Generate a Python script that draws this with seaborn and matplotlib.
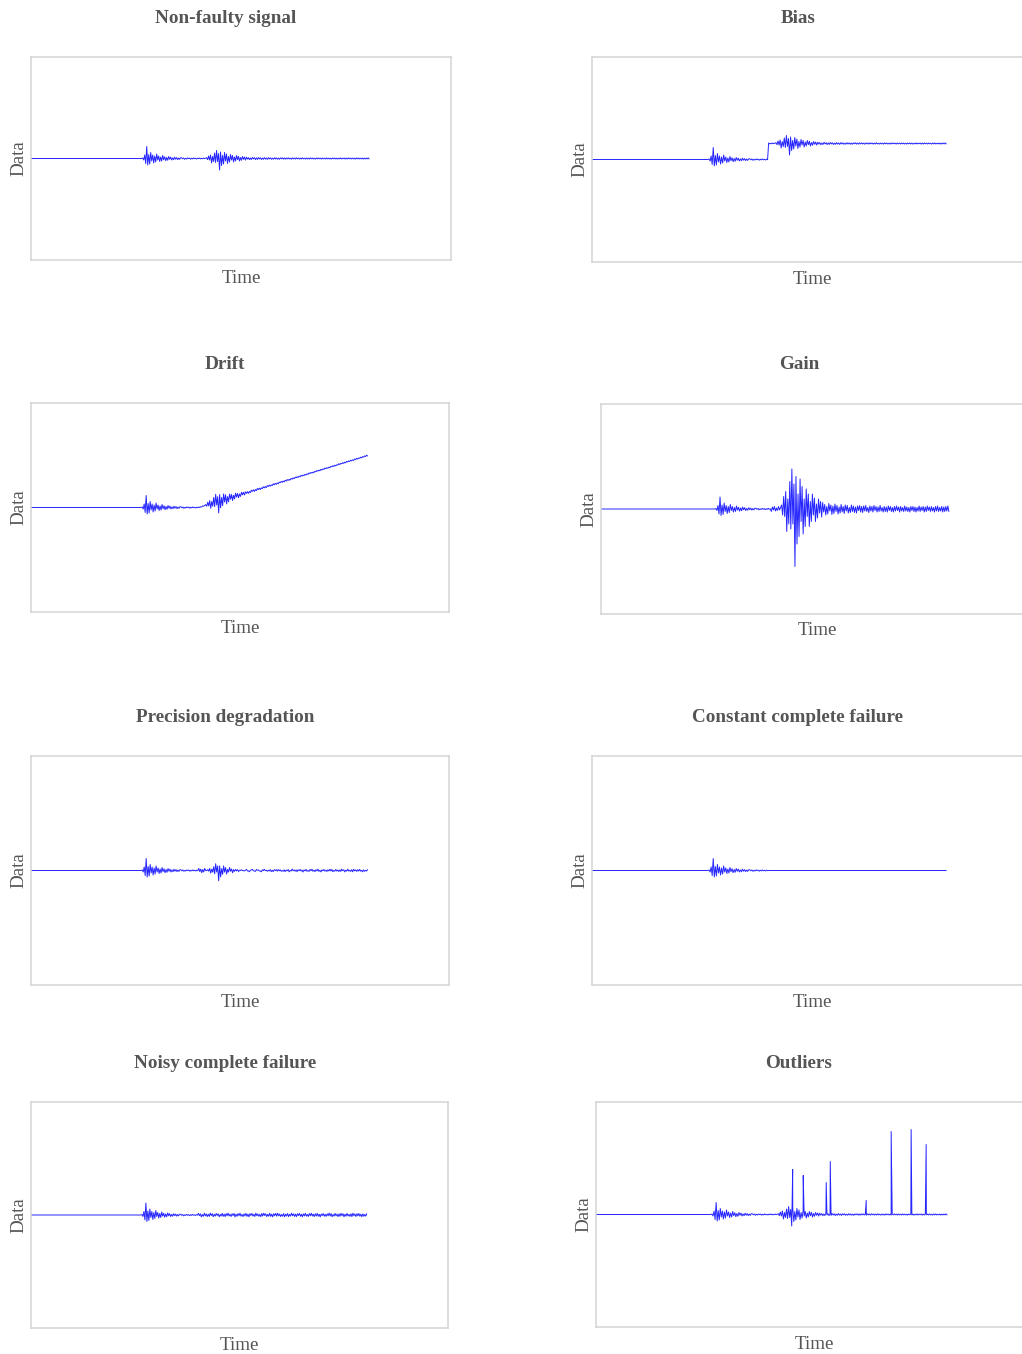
import numpy as np
import pandas as pd
import matplotlib
matplotlib.use("Agg")
import matplotlib.pyplot as plt
import seaborn as sns

# ---------------- data (vertical unit ~ 1 px) ----------------
TITLES = ["Non-faulty signal", "Bias", "Drift", "Gain",
          "Precision degradation", "Constant complete failure",
          "Noisy complete failure", "Outliers"]

# base seismic-like record, one sample per time unit (t = 0 .. 339)
BASE_FLAT = [0.0] * 112  # quiet part before the first arrival (t = 0..111)
BASE_P = [0.5, -1.5, 3.5, -5, 12, -6.5, 4, -5.5, 6, -2.5,
          3.5, -4.5, 2.5, -3.5, 4.5, -1.5, 2.5, -3, 1.5, -2.5,
          3, -1.2, 1.8, -2.2, 1.0, -1.8, 2.0, -0.8, 1.4, -1.5,
          0.6, -1.2, 1.3, -0.7, 0.9, -1.1, 0.5, -0.9, 0.8]
BASE_PCODA = [0.7, -0.3, 0.5, -0.8, 0.2, -0.5, 0.6, -0.2, 0.4, -0.7, 0.3, -0.4, 0.6,
              -0.3, 0.2, -0.5, 0.4, -0.2, 0.5, -0.4, 0.2, -0.3, 0.5, -0.2, 0.3]
BASE_S = [0.8, -1.2, 2.5, -1.5, 3.5, -4.5, 2, -3, 5.5, -4,
          8, -3, 5, -11.5, 6.5, -7, 3, -5.5, 6, -2.5,
          4.5, -5, 2, -3.5, 4, -1.5, 3, -3.5, 1.5, -2.5,
          3, -1.2, 2.2, -2.5, 1, -1.8, 2, -0.8, 1.5, -1.6]
BASE_SCODA = [1.3, -0.6, 0.9, -1.2, 0.5, -1.0, 1.1, -0.4, 0.8, -1.1, 0.6, -0.9, 1.0, -0.5, 0.7, -1.0, 0.4, -0.8, 0.9, -0.6,
              0.5, -0.9, 0.8, -0.4, 0.7, -0.8, 0.3, -0.7, 0.8, -0.5, 0.6, -0.7, 0.4, -0.8, 0.6, -0.3, 0.7, -0.6, 0.5, -0.7,
              0.6, -0.4, 0.7, -0.5, 0.3, -0.7, 0.6, -0.4, 0.5, -0.6, 0.7, -0.3, 0.5, -0.6, 0.4, -0.5, 0.7, -0.4, 0.3, -0.6,
              0.5, -0.5, 0.4, -0.6, 0.6, -0.3, 0.5, -0.5, 0.3, -0.6, 0.5, -0.4, 0.6, -0.3, 0.4, -0.6, 0.5, -0.4, 0.3, -0.5,
              0.6, -0.4, 0.4, -0.5, 0.3, -0.6, 0.5, -0.3, 0.5, -0.5, 0.4, -0.6, 0.3, -0.4, 0.6, -0.5, 0.4, -0.3, 0.5, -0.6,
              0.4, -0.5, 0.6, -0.3, 0.4, -0.5, 0.5, -0.4, 0.3, -0.6, 0.5, -0.4, 0.6, -0.5, 0.3, -0.4, 0.5, -0.6, 0.4, -0.5,
              0.5, -0.4, 0.6, -0.5]

# noise read for the degraded parts (t = 169..339)
NOISE = [1.6, -0.7, 1.2, -1.9, 0.5, -1.3, 1.8, -0.9, 1.1, -1.6,
         0.8, -1.4, 1.9, -0.6, 1.3, -1.7, 0.7, -1.2, 1.5, -0.5,
         1.2, -1.8, 0.6, -1.1, 1.7, -1.4, 0.9, -1.6, 1.4, -0.8,
         1.9, -1.0, 0.7, -1.5, 1.2, -0.6, 1.6, -1.9, 0.8, -1.3,
         1.4, -0.7, 1.8, -1.2, 0.6, -1.6, 1.1, -0.9, 1.7, -1.4,
         0.9, -1.8, 1.3, -0.5, 1.6, -1.1, 0.7, -1.5, 1.9, -0.8,
         1.1, -1.3, 0.6, -1.7, 1.5, -1.0, 1.8, -0.6, 1.2, -1.6,
         0.7, -1.2, 1.7, -1.4, 0.9, -1.9, 1.3, -0.7, 1.6, -1.1,
         1.8, -0.9, 1.0, -1.5, 0.6, -1.3, 1.4, -1.8, 0.8, -1.0,
         1.5, -1.6, 0.7, -1.1, 1.9, -0.8, 1.2, -1.4, 0.9, -1.7,
         1.3, -0.6, 1.6, -1.3, 0.8, -1.8, 1.1, -0.9, 1.7, -1.2,
         0.6, -1.5, 1.4, -0.7, 1.8, -1.1, 0.9, -1.6, 1.2, -1.0,
         1.7, -1.3, 0.8, -1.9, 1.0, -0.6, 1.5, -1.2, 0.7, -1.4,
         1.2, -0.8, 1.9, -1.0, 1.4, -1.7, 0.6, -1.1, 1.6, -0.9,
         0.9, -1.6, 1.1, -1.3, 1.7, -0.7, 1.3, -1.8, 0.8, -1.2,
         1.6, -1.0, 0.7, -1.4, 1.2, -1.6, 1.8, -0.8, 1.0, -1.5,
         1.3, -0.9, 1.5, -1.2, 0.8, -1.7, 1.1, -1.3, 0.6, -1.1, 1.4]

FAULT_START = 169
BIAS_OFFSET = 16
DRIFT_T = [0, 169, 339]
DRIFT_V = [0, 0, 52]
GAIN_START = 166
GAIN_FACTOR = 5
CONST_VALUE = 0.0
OUTLIER_T = [189.9, 200.1, 222.3, 226.2, 260.9, 285.0, 304.3, 318.8]
OUTLIER_H = [45, 39, 32, 53, 14, 83, 85, 70]
X_MAX = 421

# ---------------- build the eight records ----------------
base = np.array(BASE_FLAT + BASE_P + BASE_PCODA + BASE_S + BASE_SCODA, dtype=float)
t = np.arange(len(base), dtype=float)
noise_full = np.concatenate([np.zeros(FAULT_START), np.array(NOISE)])

frames = {
    TITLES[0]: pd.DataFrame({"Time": t, "Data": base}),
    TITLES[1]: pd.DataFrame({"Time": t, "Data": base + np.where(t >= FAULT_START, BIAS_OFFSET, 0)}),
    TITLES[2]: pd.DataFrame({"Time": t, "Data": base + np.interp(t, DRIFT_T, DRIFT_V)}),
    TITLES[3]: pd.DataFrame({"Time": t, "Data": np.where(t >= GAIN_START, base * GAIN_FACTOR, base)}),
    TITLES[4]: pd.DataFrame({"Time": t, "Data": base + noise_full}),
    TITLES[5]: pd.DataFrame({"Time": t, "Data": np.where(t >= FAULT_START, CONST_VALUE, base)}),
    TITLES[6]: pd.DataFrame({"Time": t, "Data": np.where(t >= FAULT_START, noise_full, base)}),
}
spikes = pd.DataFrame({"Time": OUTLIER_T, "Data": OUTLIER_H})
frames[TITLES[7]] = (pd.concat([pd.DataFrame({"Time": t, "Data": base}), spikes])
                     .sort_values("Time").reset_index(drop=True))

# ---------------- layout (pixel boxes of the reference) ----------------
W, H = 1022, 1354
# (left, top, bottom, width) in px
BOXES = [(31, 57, 260, 420), (592, 57, 262, 440),
         (31, 403, 612, 418), (601, 404, 614, 432),
         (31, 756, 985, 418), (592, 756, 985, 440),
         (31, 1102, 1328, 417), (596, 1102, 1327, 436)]
TITLE_POS = [(226, 18.5), (798, 18.5), (225, 364.5), (799, 364.5),
             (225, 717.5), (797, 717.5), (225, 1063.5), (799, 1063.5)]
XLAB_POS = [(241, 278.5), (812, 279.5), (240, 628.5), (817, 630.5),
            (240, 1002.5), (812, 1002.5), (239, 1345.5), (814, 1344.5)]
YLAB_X = [18.5, 579.5, 18.5, 588.5, 18.5, 579.5, 18.5, 583.5]

sns.set_style("white")
plt.rcParams["font.family"] = ["Liberation Serif", "DejaVu Serif"]

TXT = "#555555"
fig = plt.figure(figsize=(W / 100, H / 100), dpi=100)

for i, name in enumerate(TITLES):
    l, top, bot, w = BOXES[i]
    h = bot - top
    ax = fig.add_axes([l / W, 1 - bot / H, w / W, h / H])
    sns.lineplot(data=frames[name], x="Time", y="Data", ax=ax, color="#0000ff",
                 linewidth=0.7, alpha=0.85, estimator=None, sort=False)
    ax.set_xlim(0, X_MAX)
    ax.set_ylim(-h / 2, h / 2)
    ax.set_xticks([])
    ax.set_yticks([])
    ax.set_xlabel("")
    ax.set_ylabel("")
    for s in ax.spines.values():
        s.set_color("#d4d4d4")
        s.set_linewidth(1.1)
    tx, ty = TITLE_POS[i]
    fig.text(tx / W, 1 - ty / H, name, ha="center", va="center",
             fontsize=13.8, fontweight="bold", color=TXT)
    xx, xy = XLAB_POS[i]
    fig.text(xx / W, 1 - xy / H, "Time", ha="center", va="center",
             fontsize=13.7, color=TXT)
    fig.text(YLAB_X[i] / W, 1 - ((top + bot) / 2) / H, "Data", ha="center",
             va="center", rotation=90, fontsize=13.7, color=TXT)

fig.savefig("out.png", dpi=100, facecolor="white")
